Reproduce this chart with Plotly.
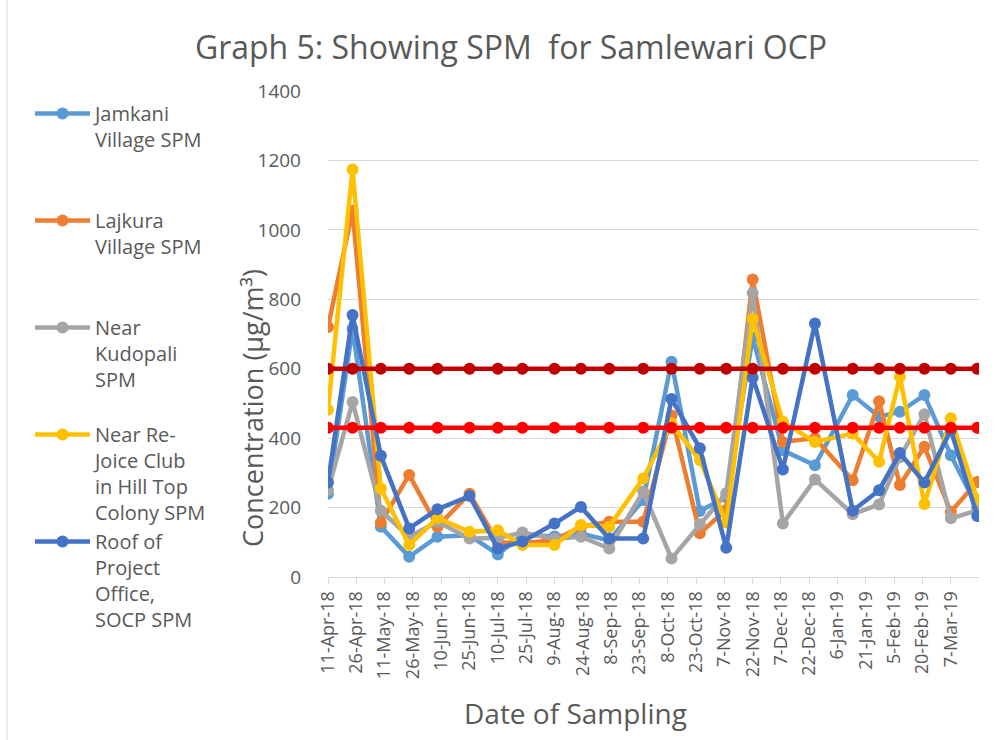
import plotly.graph_objects as go

# ---- data ----
dates = ["2018-04-11", "2018-04-24", "2018-05-09", "2018-05-24", "2018-06-08", "2018-06-25",
         "2018-07-10", "2018-07-23", "2018-08-09", "2018-08-23", "2018-09-07", "2018-09-25",
         "2018-10-10", "2018-10-25", "2018-11-08", "2018-11-22", "2018-12-08", "2018-12-25",
         "2019-01-14", "2019-01-28", "2019-02-08", "2019-02-21", "2019-03-07", "2019-03-21"]

jamkani = [240, 715, 145, 58, 116, 120, 65, 122, 117, 125, 105, 222,
           620, 190, 230, 690, 365, 322, 524, 462, 476, 524, 351, 200]
lajkura = [720, 1055, 156, 294, 145, 240, 100, 98, 106, 145, 159, 159,
           465, 126, 193, 857, 389, 400, 279, 506, 265, 375, 188, 274]
kudopali = [250, 504, 191, 116, 159, 111, 112, 128, 110, 116, 82, 246,
            53, 152, 241, 818, 154, 281, 181, 209, 345, 469, 169, 192]
rejoice = [482, 1174, 255, 92, 170, 130, 135, 92, 92, 150, 145, 284,
           442, 337, 157, 744, 447, 389, 413, 332, 577, 210, 457, 224]
roof = [272, 755, 349, 140, 195, 233, 82, 102, 154, 202, 111, 111,
        513, 371, 84, 575, 310, 730, 191, 250, 357, 272, 423, 176]
limit_high = 600
limit_low = 430

series_names = ["Jamkani<br>Village SPM<br> <br> ",
                "Lajkura<br>Village SPM<br> <br> ",
                "Near<br>Kudopali<br>SPM<br> ",
                "Near Re-<br>Joice Club<br>in Hill Top<br>Colony SPM",
                "Roof of<br>Project<br>Office,<br>SOCP SPM"]
series_values = [jamkani, lajkura, kudopali, rejoice, roof]
series_colors = ["#5B9BD5", "#ED7D31", "#A5A5A5", "#FFC000", "#4472C4"]

FONT = "Open Sans"
TXT = "#595959"
L, R, T, B = 328, 23, 91, 163
W, H = 1002, 740
PW, PH = W - L - R, H - T - B


def px_x(p):
    return (p - L) / PW


def px_y(p):
    return (H - B - p) / PH


fig = go.Figure()
for nm, vals, col in zip(series_names, series_values, series_colors):
    fig.add_trace(go.Scatter(
        x=dates, y=vals, name=nm, mode="lines+markers",
        line=dict(color=col, width=4.5),
        marker=dict(color=col, size=12),
    ))

for lim, col in [(limit_high, "#C00000"), (limit_low, "#FF0000")]:
    fig.add_trace(go.Scatter(
        x=dates, y=[lim] * len(dates), mode="lines+markers",
        line=dict(color=col, width=4.5), marker=dict(color=col, size=12),
        showlegend=False,
    ))

fig.update_layout(
    width=W, height=H,
    margin=dict(l=L, r=R, t=T, b=B, autoexpand=False),
    paper_bgcolor="white", plot_bgcolor="white",
    font=dict(family=FONT, color=TXT),
    title=dict(text="Graph 5: Showing SPM  for Samlewari OCP",
               x=511 / W, xref="container", xanchor="center",
               y=1 - 48 / H, yref="container", yanchor="middle",
               font=dict(size=32, color=TXT, family=FONT)),
    legend=dict(x=px_x(30), xanchor="left", y=px_y(94), yanchor="top",
                valign="top", tracegroupgap=0, itemwidth=55, maxheight=620,
                font=dict(size=20, color=TXT, family=FONT),
                bgcolor="rgba(0,0,0,0)"),
    showlegend=True,
)

fig.update_xaxes(
    type="date",
    range=["2018-04-11", "2019-03-21 22:00"],
    tick0="2018-04-11", dtick=15 * 86400000,
    tickformat="%-d-%b-%y", tickangle=-90,
    tickfont=dict(size=18, color=TXT, family=FONT),
    ticks="outside", ticklen=6, tickcolor="#D9D9D9",
    showline=True, linecolor="#D9D9D9", linewidth=1,
    showgrid=False, zeroline=False,
)
fig.update_yaxes(
    range=[0, 1400], dtick=200,
    tickfont=dict(size=19, color=TXT, family=FONT),
    ticklabelstandoff=26,
    showgrid=True, gridcolor="#D9D9D9", gridwidth=1,
    showline=False, zeroline=False, ticks="",
)

fig.add_annotation(
    text="Concentration (µg/m³)", textangle=-90,
    xref="paper", yref="paper", x=px_x(252), y=px_y(408),
    xanchor="center", yanchor="middle", showarrow=False,
    font=dict(size=27, color=TXT, family=FONT),
)
fig.add_annotation(
    text="Date of Sampling",
    xref="paper", yref="paper", x=px_x(575), y=px_y(713),
    xanchor="center", yanchor="middle", showarrow=False,
    font=dict(size=28, color=TXT, family=FONT),
)

fig.add_shape(type="line", xref="paper", yref="paper",
              x0=px_x(7), x1=px_x(7), y0=px_y(H), y1=px_y(0),
              line=dict(color="#D9D9D9", width=1))

fig.write_html("out.html", config={"displayModeBar": False},
               post_script="document.body.style.margin='0';")
